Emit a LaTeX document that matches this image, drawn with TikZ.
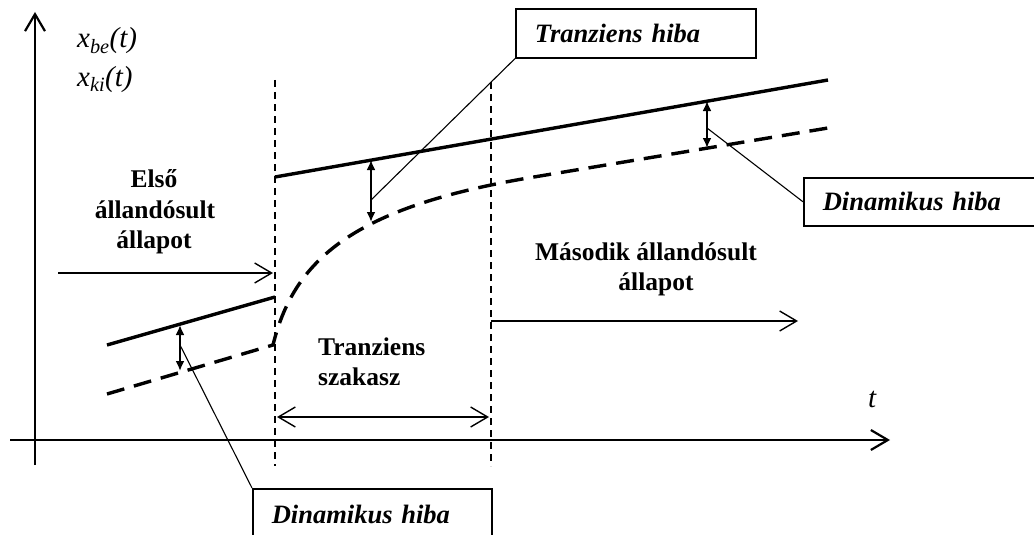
\documentclass[tikz,border=0pt]{standalone}
\usepackage{fontspec}
\setmainfont{Liberation Serif}
\usetikzlibrary{arrows.meta}
\begin{document}
\begin{tikzpicture}[x=1pt,y=-1pt,
  axisline/.style={line width=2.2pt,-{Straight Barb[length=17pt,width=20pt]}},
  openarrow/.style={line width=1.4pt,-{Straight Barb[length=17pt,width=20pt]}},
  openboth/.style={line width=1.4pt,{Straight Barb[length=17pt,width=20pt]}-{Straight Barb[length=17pt,width=20pt]}},
  errarrow/.style={line width=2.2pt,{Latex[length=10pt,width=9pt]}-{Latex[length=10pt,width=9pt]}},
  leader/.style={line width=1.1pt},
  vline/.style={line width=1.4pt,dash pattern=on 7pt off 5pt},
  solidcurve/.style={line width=3.4pt},
  dashcurve/.style={line width=3.4pt,dash pattern=on 18pt off 10pt},
  box/.style={draw,line width=1.6pt,anchor=north west,inner xsep=19pt,inner ysep=0pt,
    align=left,font=\fontsize{26.5}{30}\selectfont\bfseries\itshape},
  lbl/.style={anchor=base,inner sep=0pt,font=\fontsize{25.5}{30}\selectfont\bfseries},
  mathlbl/.style={anchor=base west,inner sep=0pt,font=\fontsize{29}{30}\selectfont\itshape}
]
\clip (0,0) rectangle (1034,535);

% axes
\coordinate (ybot) at (35,465);
\coordinate (ytop) at (35,12);
\coordinate (xleft) at (10,440);
\coordinate (xright) at (890,440);
\draw[axisline] (ybot) -- (ytop);
\draw[axisline] (xleft) -- (xright);

% borders of the transient interval
\coordinate (v1t) at (275,80);  \coordinate (v1b) at (275,466);
\coordinate (v2t) at (491,82);  \coordinate (v2b) at (491,466);
\draw[vline] (v1t) -- (v1b);
\draw[vline] (v2t) -- (v2b);

% input signal x_be(t)
\coordinate (s1a) at (107,345); \coordinate (s1b) at (275,297);
\coordinate (s2a) at (275,177); \coordinate (s2b) at (828,80);
\draw[solidcurve] (s1a) -- (s1b);
\draw[solidcurve] (s2a) -- (s2b);

% output signal x_ki(t)
\coordinate (d1a) at (107,394); \coordinate (d1b) at (273,345);
\coordinate (d2a) at (540,176); \coordinate (d2b) at (828,128);
\draw[dashcurve] (d1a) -- (d1b) .. controls (295,255) and (360,205) .. (d2a) -- (d2b);

% error arrows
\coordinate (e1t) at (180,325); \coordinate (e1b) at (180,371);
\coordinate (e2t) at (371,160); \coordinate (e2b) at (371,222);
\coordinate (e3t) at (707,101); \coordinate (e3b) at (707,148);
\draw[errarrow] (e1t) -- (e1b);
\draw[errarrow] (e2t) -- (e2b);
\draw[errarrow] (e3t) -- (e3b);
\coordinate (e1m) at (180,345);
\coordinate (e2m) at (371,200);
\coordinate (e3m) at (707,128);

% callout boxes
\node[box,text width=202pt,minimum height=49pt] (th) at (515,8) {Tranziens hiba};
\node[box,text width=204pt,minimum height=48pt] (dh1) at (803,177) {Dinamikus hiba};
\node[box,text width=201pt,minimum height=52pt] (dh2) at (252,488) {Dinamikus hiba};
\draw[leader] (th.south west) -- (e2m);
\draw[leader] (dh1.west) -- (e3m);
\draw[leader] (dh2.north west) -- (e1m);

% axis labels
\node[mathlbl] (xbe) at (77,48) {x\textsubscript{be}(t)};
\node[mathlbl] (xki) at (77,86) {x\textsubscript{ki}(t)};
\node[mathlbl] (tl) at (868,407) {t};

% state labels
\node[lbl] (l1a) at (154,187) {Első};
\node[lbl] (l1b) at (155,218) {állandósult};
\node[lbl] (l1c) at (154,248) {állapot};
\node[lbl] (l2a) at (646,260) {Második állandósult};
\node[lbl] (l2b) at (656,290) {állapot};
\node[lbl,anchor=base west] (l3a) at (318,355) {Tranziens};
\node[lbl,anchor=base west] (l3b) at (318,385) {szakasz};

% interval arrows
\coordinate (a1s) at (58,273); \coordinate (a1e) at (273,273);
\coordinate (a2s) at (277,417); \coordinate (a2e) at (489,417);
\coordinate (a3s) at (491,321); \coordinate (a3e) at (798,321);
\draw[openarrow] (a1s) -- (a1e);
\draw[openboth] (a2s) -- (a2e);
\draw[openarrow] (a3s) -- (a3e);
\end{tikzpicture}
\end{document}
